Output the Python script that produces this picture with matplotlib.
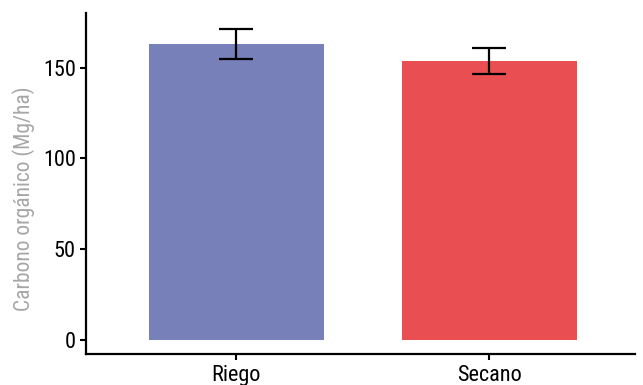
import matplotlib
matplotlib.use("Agg")
import matplotlib.pyplot as plt
from matplotlib import font_manager

names = {f.name for f in font_manager.fontManager.ttflist}
fam = [n for n in ["Roboto Condensed", "Liberation Sans Narrow", "Roboto"] if n in names]
plt.rcParams["font.family"] = fam + ["DejaVu Sans"]

categories = ["Riego", "Secano"]
means = [163.2, 153.5]
errors = [8.3, 7.0]
colors = ["#7780b8", "#e94f52"]

fig = plt.figure(figsize=(6.43, 3.85), dpi=100)
ax = fig.add_axes([0.134, 0.081, 0.854, 0.885])

x = range(len(categories))
ax.bar(x, means, width=0.69, color=colors)
ax.errorbar(x, means, yerr=errors, fmt="none", ecolor="black",
            elinewidth=1.6, capsize=12, capthick=1.6)

ax.set_xlim(-0.593, 1.577)
ax.set_ylim(-7.7, 180)
ax.set_xticks(list(x))
ax.set_xticklabels(categories)
ax.set_yticks([0, 50, 100, 150])
ax.tick_params(labelsize=16, width=1.5, length=4, colors="black")
ax.tick_params(axis="x", pad=4)
ax.set_ylabel("Carbono orgánico (Mg/ha)", fontsize=15.5, color="#a6a6a6")
ax.yaxis.set_label_coords(-0.094, 0.455)

for s in ["top", "right"]:
    ax.spines[s].set_visible(False)
for s in ["left", "bottom"]:
    ax.spines[s].set_linewidth(1.6)

fig.savefig("out.png", dpi=100)
